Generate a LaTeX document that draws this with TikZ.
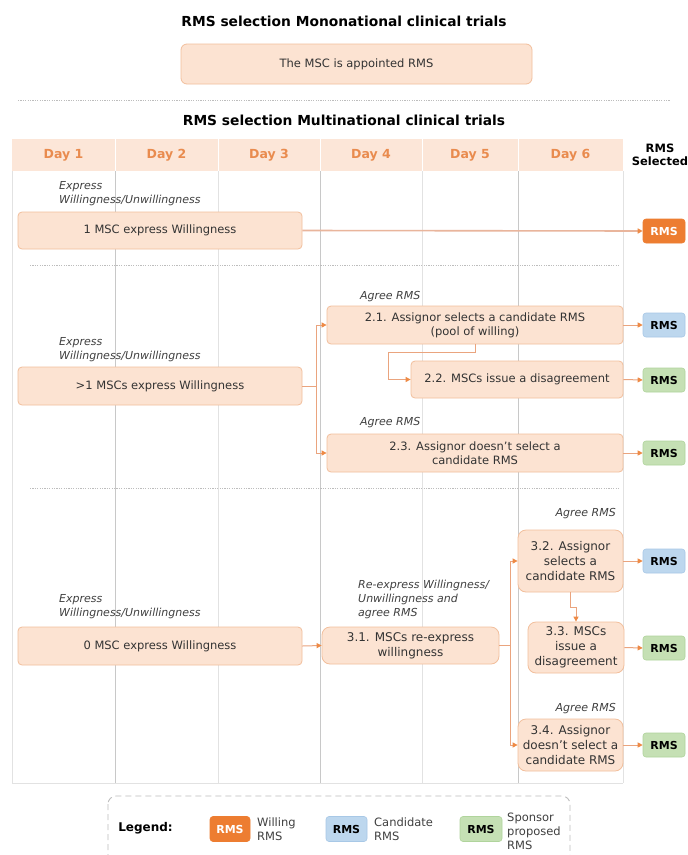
\documentclass[tikz,border=0pt]{standalone}
\usepackage{fontspec}
\setmainfont{DejaVu Sans}
\usetikzlibrary{arrows.meta,calc}
\definecolor{boxfill}{HTML}{FCE3D2}
\definecolor{boxdraw}{HTML}{F2BF9C}
\definecolor{hdrfill}{HTML}{FCE6D8}
\definecolor{dayc}{HTML}{E98B4E}
\definecolor{arrc}{HTML}{EE8A45}
\definecolor{arrline}{HTML}{EAA47E}
\definecolor{arrlight}{HTML}{E9B59C}
\definecolor{txtc}{HTML}{333333}
\definecolor{lblc}{HTML}{404040}
\definecolor{rmsor}{HTML}{ED7D31}
\definecolor{rmsbl}{HTML}{BDD7EE}
\definecolor{rmsbld}{HTML}{A8C8E6}
\definecolor{rmsgr}{HTML}{C5E0B4}
\definecolor{rmsgrd}{HTML}{B0D49C}
\definecolor{griddk}{HTML}{C8C8C8}
\definecolor{gridlt}{HTML}{E2E2E2}
\definecolor{sepc}{HTML}{BDBDBD}
\tikzset{
  flowbox/.style={draw=boxdraw, fill=boxfill, rounded corners=4pt, line width=0.8pt,
    text=txtc, font=\fontsize{11.5}{14}\selectfont, align=center, inner sep=0pt},
  bigbox/.style={flowbox, rounded corners=8pt, font=\fontsize{12}{15}\selectfont},
  rmsbase/.style={rounded corners=3pt, minimum width=42pt, minimum height=24pt,
    inner sep=0pt, font=\bfseries\fontsize{11}{13}\selectfont, line width=0.6pt},
  rmsW/.style={rmsbase, fill=rmsor, draw=rmsor, text=white},
  rmsC/.style={rmsbase, fill=rmsbl, draw=rmsbld, text=black},
  rmsS/.style={rmsbase, fill=rmsgr, draw=rmsgrd, text=black},
  conn/.style={draw=arrline, line width=1pt},
  arr/.style={conn, -{Triangle[length=5pt,width=5pt,color=arrc]}},
  lbl/.style={font=\itshape\fontsize{11}{14}\selectfont, text=lblc, align=left, inner sep=0pt},
  daylbl/.style={font=\bfseries\fontsize{12.5}{15}\selectfont, text=dayc, inner sep=0pt},
  ttl/.style={font=\bfseries\fontsize{13.8}{16}\selectfont, text=black, inner sep=0pt},
  sepline/.style={draw=sepc, line width=0.8pt, dash pattern=on 1.2pt off 1.2pt},
  legtxt/.style={font=\fontsize{11.5}{14}\selectfont, text=lblc, align=left, inner sep=0pt, anchor=west}
}
\begin{document}
\begin{tikzpicture}[x=1pt,y=-1pt]
\useasboundingbox (0,0) rectangle (688,855);
\clip (0,0) rectangle (688,855);
\fill[white] (0,0) rectangle (688,855);

% ---- mononational ----
\node[ttl] (t1) at (344,21) {RMS selection Mononational clinical trials};
\node[flowbox, minimum width=351pt, minimum height=40pt, rounded corners=6pt] (mono) at (356.5,64) {The MSC is appointed RMS};
\draw[sepline] (18,100) -- (670,100);

% ---- multinational ----
\node[ttl] (t2) at (344,120) {RMS selection Multinational clinical trials};

% table header
\fill[hdrfill] (12,139) rectangle (623,171);
\foreach \xx in {115,218,320,422,518} {\draw[white, line width=0.8pt] (\xx,139) -- (\xx,171);}
\node[daylbl] (d1) at (63.5,155) {Day 1};
\node[daylbl] (d2) at (166.5,155) {Day 2};
\node[daylbl] (d3) at (269,155) {Day 3};
\node[daylbl] (d4) at (371,155) {Day 4};
\node[daylbl] (d5) at (470,155) {Day 5};
\node[daylbl] (d6) at (570.5,155) {Day 6};
\node[font=\bfseries\fontsize{11.5}{13}\selectfont, align=center, inner sep=0pt] (sel) at (660,155) {RMS\\Selected};

% grid
\foreach \xx in {12,218,422,623} {\draw[gridlt, line width=0.9pt] (\xx,171) -- (\xx,783);}
\foreach \xx in {115,320,518} {\draw[griddk, line width=0.9pt] (\xx,171) -- (\xx,783);}
\draw[gridlt, line width=0.9pt] (12,783) -- (623,783);

\draw[sepline] (30,265) -- (620,265);
\draw[sepline] (30,488) -- (620,488);

% ---- section 1 ----
\node[lbl, anchor=west] (l1) at (59,194) {Express\\Willingness/Unwillingness};
\node[flowbox, minimum width=284pt, minimum height=37pt] (b1) at (160,230.5) {1 MSC express Willingness};
\node[rmsW] (r1) at (664,231) {RMS};
\draw[draw=arrlight, line width=1.6pt, -{Triangle[length=5pt,width=5pt,color=arrc]}] (b1.east) -- (r1.west);

% ---- section 2 ----
\node[lbl, anchor=west] (l2) at (59,349.5) {Express\\Willingness/Unwillingness};
\node[flowbox, minimum width=284pt, minimum height=38pt] (b2) at (160,386) {>1 MSCs express Willingness};
\node[lbl, anchor=west] (a21) at (360,297) {Agree RMS};
\node[flowbox, minimum width=296pt, minimum height=38pt] (b21) at (475,325) {2.1. Assignor selects a candidate RMS\\(pool of willing)};
\node[flowbox, minimum width=212pt, minimum height=37pt] (b22) at (517,379.5) {2.2. MSCs issue a disagreement};
\node[lbl, anchor=west] (a23) at (360,423) {Agree RMS};
\node[flowbox, minimum width=296pt, minimum height=38pt] (b23) at (475,453) {2.3. Assignor doesn't select a\\candidate RMS};
\node[rmsC] (r21) at (664,325) {RMS};
\node[rmsS] (r22) at (664,380) {RMS};
\node[rmsS] (r23) at (664,453) {RMS};

\coordinate (j2) at (316,386);
\draw[conn] (b2.east) -- (j2);
\draw[arr] (j2) |- (b21.west);
\draw[arr] (j2) |- (b23.west);
\draw[arr] (b21.south) -- ++(0,8) -| (388,379.5) -- (b22.west);
\draw[arr] (b21.east) -- (r21.west);
\draw[arr] (b22.east) -- (r22.west);
\draw[arr] (b23.east) -- (r23.west);

% ---- section 3 ----
\node[lbl, anchor=west] (l3) at (59,607) {Express\\Willingness/Unwillingness};
\node[flowbox, minimum width=284pt, minimum height=38pt] (b3) at (160,646) {0 MSC express Willingness};
\node[lbl, anchor=west] (l31) at (358,599) {Re-express Willingness/\\Unwillingness and\\agree RMS};
\node[bigbox, minimum width=177pt, minimum height=37pt] (b31) at (410.5,645.5) {3.1. MSCs re-express\\willingness};
\node[lbl, anchor=east] (a32) at (616,514) {Agree RMS};
\node[bigbox, minimum width=105pt, minimum height=62pt] (b32) at (570.5,561) {3.2. Assignor\\selects a\\candidate RMS};
\node[bigbox, minimum width=96pt, minimum height=51pt] (b33) at (576,647.5) {3.3. MSCs\\issue a\\disagreement};
\node[lbl, anchor=east] (a34) at (616,709) {Agree RMS};
\node[bigbox, minimum width=105pt, minimum height=52pt] (b34) at (570.5,745) {3.4. Assignor\\doesn't select a\\candidate RMS};
\node[rmsC] (r32) at (664,561) {RMS};
\node[rmsS] (r33) at (664,648) {RMS};
\node[rmsS] (r34) at (664,745) {RMS};

\draw[arr] (b3.east) -- (b31.west);
\coordinate (j3) at (510,645.5);
\draw[conn] (b31.east) -- (j3);
\draw[arr] (j3) |- (b32.west);
\draw[arr] (j3) |- (b34.west);
\draw[arr] (b32.south) -- ++(0,15) -| (b33.north);
\draw[arr] (b32.east) -- (r32.west);
\draw[arr] (b33.east) -- (r33.west);
\draw[arr] (b34.east) -- (r34.west);

% ---- legend ----
\draw[draw=sepc, line width=0.9pt, dash pattern=on 6pt off 4pt, rounded corners=8pt] (108,796) rectangle (570,875);
\node[font=\bfseries\fontsize{12}{14}\selectfont, text=black, inner sep=0pt] (lg) at (145.5,828) {Legend:};
\node[rmsW, minimum width=40pt, minimum height=25pt] (lw) at (230,829) {RMS};
\node[legtxt] (lwt) at (257,829) {Willing\\RMS};
\node[rmsC, minimum width=41pt, minimum height=25pt] (lc) at (346.5,829) {RMS};
\node[legtxt] (lct) at (374,829) {Candidate\\RMS};
\node[rmsS, minimum width=42pt, minimum height=25pt] (ls) at (481,829) {RMS};
\node[legtxt] (lst) at (507,831) {Sponsor\\proposed\\RMS};
\end{tikzpicture}
\end{document}
